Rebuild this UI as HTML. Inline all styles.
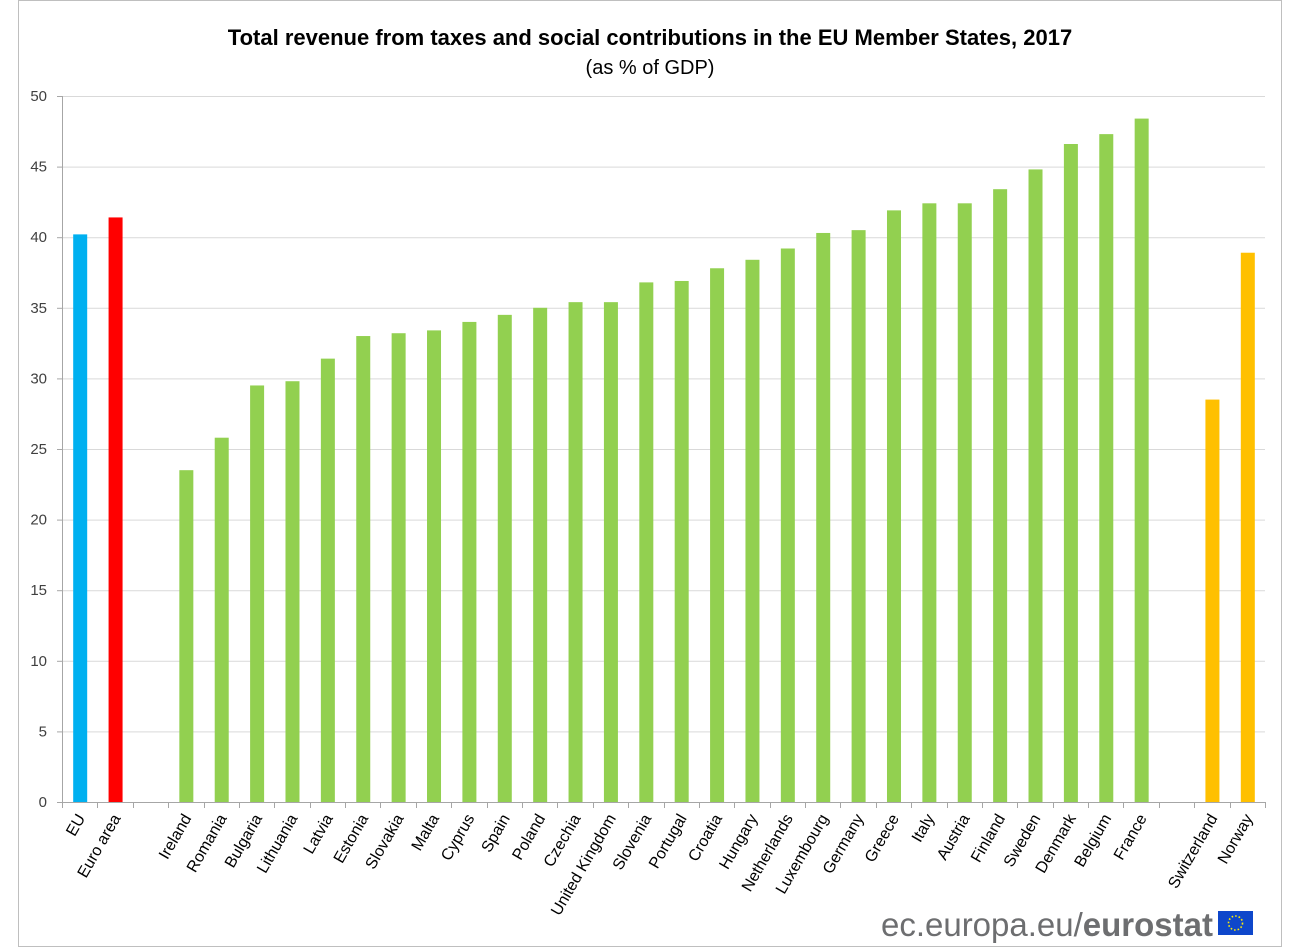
<!DOCTYPE html>
<html><head><meta charset="utf-8"><style>
body{margin:0;background:#fff;}
svg{display:block;font-family:"Liberation Sans",Arial,sans-serif;}
</style></head><body>
<svg width="1300" height="949" xmlns="http://www.w3.org/2000/svg">
<rect x="18.5" y="0.5" width="1263" height="946" fill="#fff" stroke="#bfbfbf"/>
<text x="650" y="45" font-size="22" font-weight="bold" text-anchor="middle" fill="#000">Total revenue from taxes and social contributions in the EU Member States, 2017</text>
<text x="650" y="74" font-size="20" text-anchor="middle" fill="#000">(as % of GDP)</text>
<g id="grid" stroke="#d9d9d9" stroke-width="1"></g>
<g id="yl" font-size="15" fill="#404040" text-anchor="end"></g>
<g id="bars"></g>
<g id="xl" font-size="16" fill="#000"></g>
<line x1="62" y1="802.5" x2="1265" y2="802.5" stroke="#a6a6a6"/>
<line x1="62.5" y1="96" x2="62.5" y2="802" stroke="#a6a6a6"/>
<g id="ticks" stroke="#a6a6a6"></g>
<text x="1213" y="936" font-size="33" text-anchor="end" fill="#6d6e70">ec.europa.eu/<tspan font-weight="bold">eurostat</tspan></text>
<rect x="1218" y="911" width="35" height="24" fill="#0e47cb"/>
<circle cx="1235.5" cy="923" r="7" fill="none" stroke="#ffed00" stroke-width="1.6" stroke-dasharray="1.6 2"/>
</svg>
<script>
const NS="http://www.w3.org/2000/svg";
function el(p,t,a,txt){const e=document.createElementNS(NS,t);for(const k in a)e.setAttribute(k,a[k]);if(txt)e.textContent=txt;document.getElementById(p).appendChild(e);}
const y0=802,sc=706/50;
for(let v=0;v<=50;v+=5){const y=y0-v*sc;if(v>0)el("grid","line",{x1:62,x2:1265,y1:y+0.5,y2:y+0.5});el("yl","text",{x:47,y:y+5},String(v));el("ticks","line",{x1:57,x2:62,y1:y+0.5,y2:y+0.5});}
const d=[["EU",40.2,"#00b0f0"],["Euro area",41.4,"#ff0000"],null,["Ireland",23.5],["Romania",25.8],["Bulgaria",29.5],["Lithuania",29.8],["Latvia",31.4],["Estonia",33.0],["Slovakia",33.2],["Malta",33.4],["Cyprus",34.0],["Spain",34.5],["Poland",35.0],["Czechia",35.4],["United Kingdom",35.4],["Slovenia",36.8],["Portugal",36.9],["Croatia",37.8],["Hungary",38.4],["Netherlands",39.2],["Luxembourg",40.3],["Germany",40.5],["Greece",41.9],["Italy",42.4],["Austria",42.4],["Finland",43.4],["Sweden",44.8],["Denmark",46.6],["Belgium",47.3],["France",48.4],null,["Switzerland",28.5,"#ffc000"],["Norway",38.9,"#ffc000"]];
const sw=(1265-62)/34;
for(let i=0;i<=34;i++){const x=Math.round(62+i*sw)+0.5;el("ticks","line",{x1:x,x2:x,y1:802,y2:808});}
d.forEach((r,i)=>{if(!r)return;const cx=62+sw*(i+0.5);const h=r[1]*sc;
el("bars","rect",{x:cx-6.5,y:y0-h,width:14,height:h,fill:r[2]||"#92d050"});
el("xl","text",{x:0,y:0,"text-anchor":"end",transform:`translate(${cx+6},818) rotate(-60)`},r[0]);});
</script>
</body></html>
